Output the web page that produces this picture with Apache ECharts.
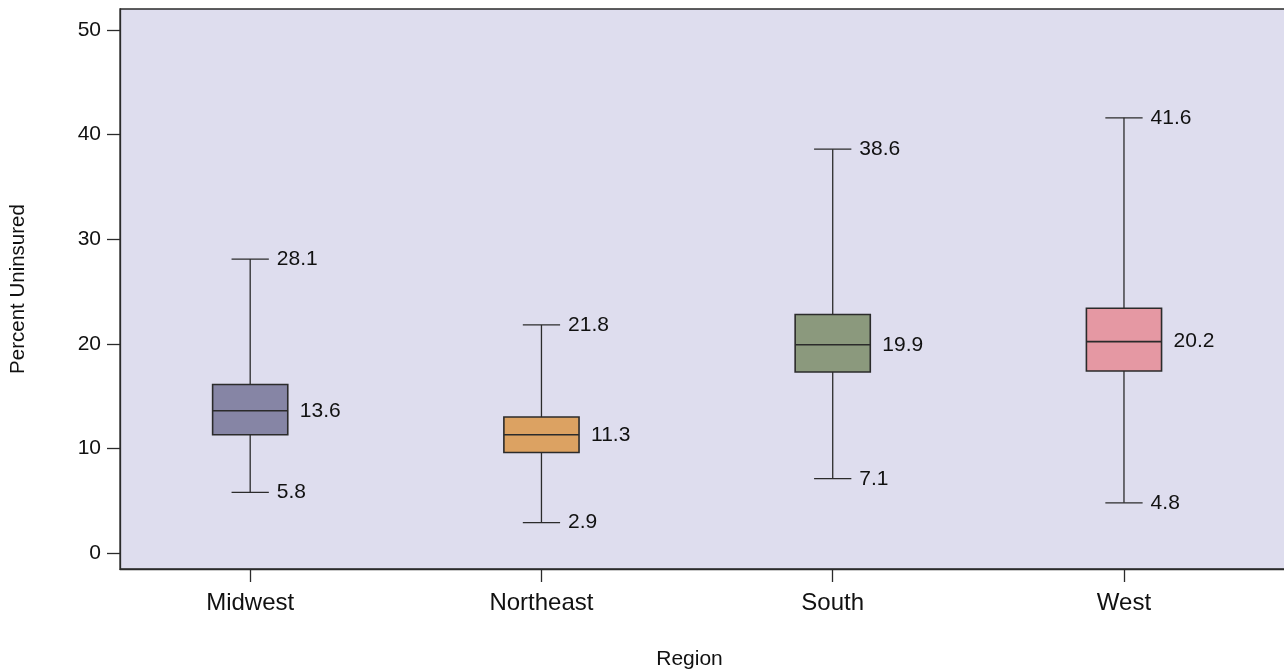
<!DOCTYPE html>
<html>
<head>
<meta charset="utf-8">
<script src="https://cdn.jsdelivr.net/npm/echarts@6/dist/echarts.min.js"></script>
<style>
  html, body { margin: 0; padding: 0; background: #ffffff; }
  #chart { width: 1284px; height: 670px; }
</style>
</head>
<body>
<div id="chart"></div>
<script>
// Percent uninsured by region: box-and-whisker summary
const regions = ['Midwest', 'Northeast', 'South', 'West'];
const lowValues    = [5.8, 2.9, 7.1, 4.8];
const q1Values     = [11.3, 9.6, 17.3, 17.4];
const medianValues = [13.6, 11.3, 19.9, 20.2];
const q3Values     = [16.1, 13.0, 22.8, 23.4];
const highValues   = [28.1, 21.8, 38.6, 41.6];
const yTicks = [0, 10, 20, 30, 40, 50];
const boxColors = ['#8685A5', '#DCA262', '#8B997D', '#E598A3'];

const boxData = regions.map((name, i) => [i, lowValues[i], q1Values[i], medianValues[i], q3Values[i], highValues[i]]);

const FONT = '"Liberation Sans", Arial, sans-serif';
const LINE = '#2b2b2b';
const TEXT = '#111111';

function renderBox(params, api) {
  const i = api.value(0);
  const unit = api.size([1, 0])[0];
  const halfBox = unit * 0.129;
  const halfCap = unit * 0.064;
  const pLow = api.coord([i, api.value(1)]);
  const pQ1 = api.coord([i, api.value(2)]);
  const pMed = api.coord([i, api.value(3)]);
  const pQ3 = api.coord([i, api.value(4)]);
  const pHigh = api.coord([i, api.value(5)]);
  const cx = pMed[0];
  const lineStyle = { stroke: LINE, lineWidth: 1.3 };
  const valueText = (txt, x, y) => ({
    type: 'text',
    style: { text: txt, x: x, y: y, fill: TEXT, font: '21px ' + FONT, align: 'left', verticalAlign: 'middle' }
  });
  return {
    type: 'group',
    children: [
      { type: 'line', shape: { x1: cx, y1: pHigh[1], x2: cx, y2: pQ3[1] }, style: lineStyle },
      { type: 'line', shape: { x1: cx, y1: pQ1[1], x2: cx, y2: pLow[1] }, style: lineStyle },
      { type: 'line', shape: { x1: cx - halfCap, y1: pHigh[1], x2: cx + halfCap, y2: pHigh[1] }, style: lineStyle },
      { type: 'line', shape: { x1: cx - halfCap, y1: pLow[1], x2: cx + halfCap, y2: pLow[1] }, style: lineStyle },
      {
        type: 'rect',
        shape: { x: cx - halfBox, y: pQ3[1], width: halfBox * 2, height: pQ1[1] - pQ3[1] },
        style: { fill: boxColors[i], stroke: LINE, lineWidth: 1.6 }
      },
      { type: 'line', shape: { x1: cx - halfBox, y1: pMed[1], x2: cx + halfBox, y2: pMed[1] }, style: { stroke: LINE, lineWidth: 1.6 } },
      valueText(api.value(5).toFixed(1), cx + halfCap + 8, pHigh[1]),
      valueText(api.value(3).toFixed(1), cx + halfBox + 12, pMed[1]),
      valueText(api.value(1).toFixed(1), cx + halfCap + 8, pLow[1])
    ]
  };
}

const chart = echarts.init(document.getElementById('chart'), null, { renderer: 'canvas' });
chart.setOption({
  animation: false,
  backgroundColor: '#ffffff',
  grid: {
    left: 120, top: 9, right: -6, bottom: 101,
    outerBoundsMode: 'none',
    containLabel: false,
    show: true, backgroundColor: '#DEDDEE', borderColor: LINE, borderWidth: 1.3
  },
  xAxis: {
    type: 'value',
    min: -0.447, max: 3.57,
    name: 'Region',
    nameLocation: 'middle',
    nameGap: 80,
    nameTextStyle: { fontFamily: FONT, fontSize: 21, color: TEXT, padding: [0, 31, 0, 0] },
    splitLine: { show: false },
    axisLine: { show: true, onZero: false, lineStyle: { color: LINE, width: 1.3 } },
    axisTick: { show: true, length: 13, lineStyle: { color: LINE, width: 1.3 }, customValues: [0, 1, 2, 3] },
    axisLabel: {
      customValues: [0, 1, 2, 3],
      formatter: v => regions[Math.round(v)] || '',
      fontFamily: FONT, fontSize: 24, color: TEXT, margin: 22
    }
  },
  yAxis: {
    type: 'value',
    min: -1.53, max: 52.0,
    name: 'Percent Uninsured',
    nameLocation: 'middle',
    nameRotate: 90,
    nameGap: 91,
    nameTextStyle: { fontFamily: FONT, fontSize: 20.5, color: TEXT },
    splitLine: { show: false },
    axisLine: { show: true, onZero: false, lineStyle: { color: LINE, width: 1.3 } },
    axisTick: { show: true, length: 13, lineStyle: { color: LINE, width: 1.3 }, customValues: yTicks },
    axisLabel: { customValues: yTicks, fontFamily: FONT, fontSize: 21, color: TEXT, margin: 19 }
  },
  series: [{
    type: 'custom',
    renderItem: renderBox,
    encode: { x: 0, y: [1, 2, 3, 4, 5] },
    data: boxData,
    clip: false
  }]
});
</script>
</body>
</html>
